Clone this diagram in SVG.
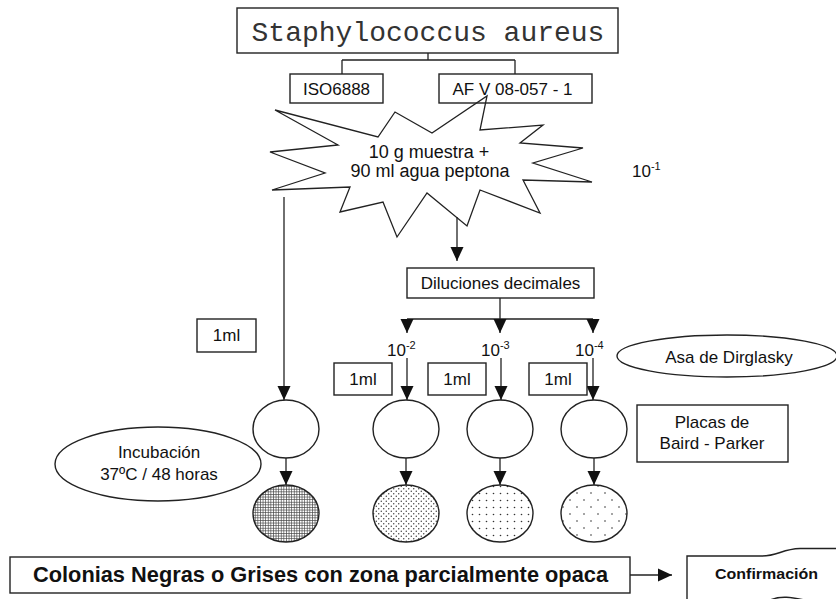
<svg xmlns="http://www.w3.org/2000/svg" width="836" height="599" viewBox="0 0 836 599">
<style>
.bx{fill:#fff;stroke:#222;stroke-width:1.4}
.ln{fill:none;stroke:#222;stroke-width:1.3}
.ar{fill:none;stroke:#222;stroke-width:1.3;marker-end:url(#ah)}
.t{font-family:"Liberation Sans",Arial,sans-serif;font-size:17px;fill:#111}
.c{text-anchor:middle}
.sup{font-size:11px}
.pl{stroke:#222;stroke-width:1.4}
</style>
<defs>
<marker id="ah" viewBox="0 0 14 14" refX="14" refY="7" markerWidth="14" markerHeight="14" markerUnits="userSpaceOnUse" orient="auto">
<path d="M0,0.5 L14,7 L0,13.5 z" fill="#111"/>
</marker>
<pattern id="grid" width="2.6" height="2.6" patternUnits="userSpaceOnUse">
<rect width="2.6" height="2.6" fill="#fff"/>
<path d="M0 0.4H2.6M0.4 0V2.6" stroke="#444" stroke-width="0.7"/>
</pattern>
<pattern id="d1" width="5" height="5" patternUnits="userSpaceOnUse">
<rect width="5" height="5" fill="#fff"/>
<circle cx="1.25" cy="1.25" r="0.7" fill="#333"/>
<circle cx="3.75" cy="3.75" r="0.7" fill="#333"/>
</pattern>
<pattern id="d2" width="7" height="7" patternUnits="userSpaceOnUse">
<rect width="7" height="7" fill="#fff"/>
<circle cx="3.5" cy="3.5" r="0.8" fill="#333"/>
</pattern>
<pattern id="d3" width="14" height="14" patternUnits="userSpaceOnUse">
<rect width="14" height="14" fill="#fff"/>
<circle cx="3" cy="3" r="0.8" fill="#333"/>
<circle cx="10" cy="10" r="0.8" fill="#333"/>
</pattern>
</defs>
<rect width="836" height="599" fill="#fff"/>

<g id="connectors">
<path class="ln" d="M428 53V60M342 60H515M342 60V74M515 60V74"/>
<path class="ar" d="M284 197V400"/>
<path class="ar" d="M457 217V261"/>
<path class="ln" d="M500 298V319M407 319H593"/>
<path class="ar" d="M407 319V333"/>
<path class="ar" d="M500 319V333"/>
<path class="ar" d="M593 319V333"/>
<path class="ar" d="M407 358V400"/>
<path class="ar" d="M501 358V400"/>
<path class="ar" d="M593 358V400"/>
<path class="ar" d="M286 458V485"/>
<path class="ar" d="M406 458V485"/>
<path class="ar" d="M500 458V485"/>
<path class="ar" d="M594 458V485"/>
<path class="ar" d="M630 575H672"/>
</g>

<g id="staph">
<rect class="bx" x="237" y="8" width="381" height="45"/>
<text x="428" y="41" class="c" style="font-family:'Liberation Mono','Courier New',monospace;font-size:28px;fill:#333">Staphylococcus aureus</text>
</g>
<g id="iso">
<rect class="bx" x="290" y="74" width="93" height="29"/>
<text x="336.5" y="95" class="t c">ISO6888</text>
</g>
<g id="afv">
<rect class="bx" x="439" y="74" width="153" height="29"/>
<text x="512.5" y="95" class="t c">AF V 08-057 - 1</text>
</g>
<g id="muestra">
<polygon class="ln" points="275,110 378,137 395,112 432,133 487,96 480,130 543,125 520,143 583,148 533,163 592,182 523,180 540,213 480,190 467,226 427,193 397,237 383,202 340,212 350,187 272,190 325,173 270,152 338,145"/>
<text x="429" y="158" class="t c" style="font-size:18px">10 g muestra +</text>
<text x="430" y="177" class="t c" style="font-size:18px">90 ml agua peptona</text>
</g>
<g id="dil1">
<text x="632" y="177" class="t">10<tspan class="sup" dy="-7">-1</tspan></text>
</g>
<g id="diluciones">
<rect class="bx" x="407" y="268" width="187" height="30"/>
<text x="500.5" y="289" class="t c">Diluciones decimales</text>
</g>
<g id="ml0">
<rect class="bx" x="197" y="319" width="59" height="33"/>
<text x="226.5" y="341" class="t c">1ml</text>
</g>
<g id="dil2">
<text x="387" y="356" class="t">10<tspan class="sup" dy="-7">-2</tspan></text>
</g>
<g id="dil3">
<text x="481" y="356" class="t">10<tspan class="sup" dy="-7">-3</tspan></text>
</g>
<g id="dil4">
<text x="575" y="356" class="t">10<tspan class="sup" dy="-7">-4</tspan></text>
</g>
<g id="ml1">
<rect class="bx" x="334" y="363" width="58" height="32"/>
<text x="363" y="385" class="t c">1ml</text>
</g>
<g id="ml2">
<rect class="bx" x="428" y="363" width="58" height="32"/>
<text x="457" y="385" class="t c">1ml</text>
</g>
<g id="ml3">
<rect class="bx" x="529" y="363" width="58" height="32"/>
<text x="558" y="385" class="t c">1ml</text>
</g>
<g id="asa">
<ellipse class="bx" cx="727" cy="356" rx="110" ry="21"/>
<text x="729" y="363" class="t c">Asa de Dirglasky</text>
</g>
<g id="placas">
<rect class="bx" x="637" y="405" width="151" height="57"/>
<text x="712" y="428" class="t c">Placas de</text>
<text x="712" y="449" class="t c">Baird - Parker</text>
</g>
<g id="incubacion">
<ellipse class="bx" cx="158" cy="464" rx="103" ry="37"/>
<text x="159" y="458" class="t c">Incubación</text>
<text x="159" y="480" class="t c">37ºC / 48 horas</text>
</g>
<g id="placa0"><ellipse class="bx" cx="286" cy="429" rx="33" ry="29"/></g>
<g id="placa1"><ellipse class="bx" cx="406" cy="429" rx="33" ry="29"/></g>
<g id="placa2"><ellipse class="bx" cx="500" cy="429" rx="33" ry="29"/></g>
<g id="placa3"><ellipse class="bx" cx="594" cy="429" rx="33" ry="29"/></g>
<g id="colonia0"><ellipse cx="286" cy="513.5" rx="33" ry="28.5" fill="url(#grid)" class="pl"/></g>
<g id="colonia1"><ellipse cx="406" cy="513.5" rx="33" ry="28.5" fill="url(#d1)" class="pl"/></g>
<g id="colonia2"><ellipse cx="500" cy="513.5" rx="33" ry="28.5" fill="url(#d2)" class="pl"/></g>
<g id="colonia3"><ellipse cx="594" cy="513.5" rx="33" ry="28.5" fill="url(#d3)" class="pl"/></g>
<g id="colonias">
<rect class="bx" x="10" y="557" width="620" height="36"/>
<text x="320.5" y="582" class="t c" style="font-size:21.5px;font-weight:bold" textLength="575" lengthAdjust="spacingAndGlyphs">Colonias Negras o Grises con zona parcialmente opaca</text>
</g>
<g id="confirmacion">
<path class="bx" d="M687 556H762C778 556 782 549 800 548.5H840V604H840C805 604 790 592 770 600H687Z"/>
<text x="766.5" y="579" class="t c" style="font-size:15px;font-weight:bold" textLength="103" lengthAdjust="spacingAndGlyphs">Confirmación</text>
</g>
</svg>
